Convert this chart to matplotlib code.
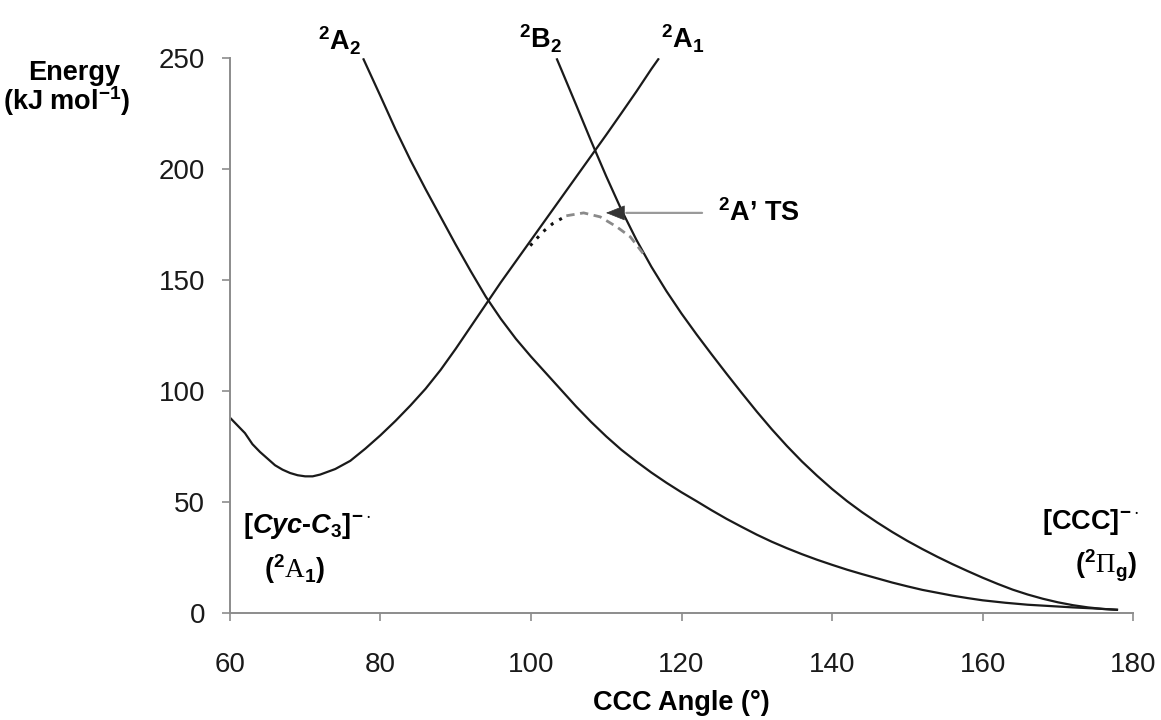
import matplotlib
matplotlib.use("Agg")
import matplotlib.pyplot as plt

plt.rcParams['font.family'] = ['Liberation Sans', 'DejaVu Sans']
plt.rcParams['mathtext.fontset'] = 'custom'
plt.rcParams['mathtext.rm'] = 'Liberation Sans:bold'
plt.rcParams['mathtext.it'] = 'Liberation Sans:italic:bold'
plt.rcParams['mathtext.bf'] = 'Liberation Sans:bold'
plt.rcParams['mathtext.sf'] = 'Liberation Serif'
plt.rcParams['mathtext.default'] = 'rm'

# --- potential energy curves (CCC angle in degrees, energy in kJ/mol) ---
a1_angle = [60, 61, 62, 63, 64, 65, 66, 67, 68, 69, 70, 71, 72, 74, 76, 78, 80, 82, 84,
            86, 88, 90, 92, 94, 96, 98, 100, 102, 104, 106, 108, 110, 112, 114, 116, 117]
a1_energy = [88, 84.5, 81, 76, 72.5, 69.5, 66.5, 64.5, 63, 62, 61.5, 61.5, 62.3, 64.8, 68.5,
             74, 80, 86.5, 93.5, 101, 109.5, 119, 129, 139, 149, 158.5, 168, 177.5, 187,
             196.5, 206, 215.5, 225.2, 235, 245.2, 250]

a2_angle = [77.7, 80, 82, 84, 86, 88, 90, 92, 94, 96, 98, 100, 102, 104, 106, 108, 110, 112,
            114, 116, 118, 120, 122, 124, 126, 128, 130, 132, 134, 136, 138, 140, 142, 144,
            146, 148, 150, 152, 154, 156, 158, 160, 163, 166, 169, 172, 175, 178]
a2_energy = [250, 233, 218, 204, 191, 178.5, 166, 154, 142.5, 132.5, 123.5, 115.5, 108, 100.5,
             93, 86, 79.5, 73.5, 68.2, 63.2, 58.6, 54.3, 50.3, 46.2, 42.3, 38.7, 35.2, 32,
             29.1, 26.4, 23.9, 21.6, 19.4, 17.4, 15.5, 13.6, 11.9, 10.3, 9, 7.7, 6.6, 5.6,
             4.5, 3.6, 3, 2.4, 1.9, 1.3]

b2_angle = [103.4, 104, 106, 108, 110, 112, 114, 116, 118, 120, 122, 124, 126, 128, 130, 132,
            134, 136, 138, 140, 142, 144, 146, 148, 150, 152, 154, 156, 158, 160, 162, 164,
            166, 168, 170, 172, 174, 176, 178]
b2_energy = [250, 245.2, 229, 212.6, 196.8, 181.8, 168.2, 156.0, 145.0, 134.9, 125.5, 116.5,
             107.7, 99.1, 90.7, 82.7, 75.2, 68.2, 61.8, 55.8, 50.3, 45.3, 40.7, 36.4, 32.4,
             28.7, 25.2, 21.9, 18.8, 15.8, 13.0, 10.4, 8.2, 6.3, 4.7, 3.4, 2.4, 1.7, 1.3]

# 2A' transition-state path between the 2A1 and 2B2 surfaces
ts_left_angle = [99.9, 101.6, 102.9, 104.7]
ts_left_energy = [165.5, 171.8, 175.5, 179]
ts_right_angle = [104.7, 107, 109.2, 111.4, 113.2, 114.9]
ts_right_energy = [179, 180.3, 178.5, 174, 169.5, 162]

x_ticks = [60, 80, 100, 120, 140, 160, 180]
y_ticks = [0, 50, 100, 150, 200, 250]

fig = plt.figure(figsize=(11.61, 7.20), dpi=100)
ax = fig.add_axes([0.198, 0.149, 0.778, 0.770])

line_kw = dict(color='#1a1a1a', lw=1.6, solid_capstyle='butt')
ax.plot(a1_angle, a1_energy, **line_kw)
ax.plot(a2_angle, a2_energy, **line_kw)
ax.plot(b2_angle, b2_energy, **line_kw)
ax.plot(ts_left_angle, ts_left_energy, color='#111111', lw=2.2, ls=(0, (1, 2.2)))
ax.plot(ts_right_angle, ts_right_energy, color='#8a8a8a', lw=2.0, ls=(0, (3, 2)))

ax.set_xlim(60, 180)
ax.set_ylim(0, 250)
ax.set_xticks(x_ticks)
ax.set_yticks(y_ticks)

for side in ('top', 'right'):
    ax.spines[side].set_visible(False)
for side in ('left', 'bottom'):
    ax.spines[side].set_color('#8c8c8c')
    ax.spines[side].set_linewidth(1.4)

ax.tick_params(axis='both', direction='out', length=6, width=1.2, color='#8c8c8c',
               labelsize=20, labelcolor='#1a1a1a')
ax.tick_params(axis='y', pad=12)
ax.tick_params(axis='x', pad=22)

ax.set_xlabel('CCC Angle (°)', fontsize=19.5, fontweight='bold', labelpad=9)

fig.text(0.064, 0.899, 'Energy', fontsize=19.5, fontweight='bold', ha='center', va='center')
fig.text(0.057, 0.859, r'(kJ mol$^{-1}$)', fontsize=19.5, fontweight='bold',
         ha='center', va='center')

# state labels above the curves
label_kw = dict(fontsize=19.5, fontweight='bold', ha='center', va='center',
                annotation_clip=False)
ax.annotate(r'$^{2}$A$_{2}$', xy=(74.6, 258), **label_kw)
ax.annotate(r'$^{2}$B$_{2}$', xy=(101.3, 259), **label_kw)
ax.annotate(r'$^{2}$A$_{1}$', xy=(120.2, 259), **label_kw)

# minima labels
txt_kw = dict(fontsize=19.5, fontweight='bold', ha='center', va='center')
ax.text(70.2, 39, r'$[\mathit{Cyc}$-$\mathit{C}_{3}]^{-\cdot}$', **txt_kw)
ax.text(68.6, 19.5, r'$(^{2}\mathsf{A}_{1})$', **txt_kw)
ax.text(174.4, 41, r'[CCC]$^{-\cdot}$', **txt_kw)
ax.text(176.4, 21, r'$(^{2}\mathsf{\Pi}_{g})$', **txt_kw)

# transition-state pointer
ts_tip = (109.6, 180.3)
ax.annotate('', xy=(112.3, ts_tip[1]), xytext=(123.1, ts_tip[1]),
            arrowprops=dict(arrowstyle='-', color='#9a9a9a', lw=1.6))
ax.annotate('', xy=ts_tip, xytext=(112.6, ts_tip[1]),
            arrowprops=dict(arrowstyle='-|>,head_length=1.25,head_width=0.5',
                            color='#333333', lw=0.5))
ax.text(124.9, ts_tip[1], r"$^{2}$A’ TS", fontsize=19.5, fontweight='bold',
        ha='left', va='center')

fig.savefig('out.png', dpi=100)
